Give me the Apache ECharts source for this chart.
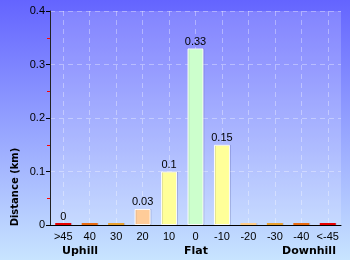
<!DOCTYPE html>
<html>
<head>
<meta charset="utf-8">
<script src="https://cdn.jsdelivr.net/npm/echarts@6/dist/echarts.min.js"></script>
<style>
html, body { margin: 0; padding: 0; }
#chart { width: 350px; height: 260px; }
</style>
</head>
<body>
<div id="chart"></div>
<script>
// gradient categories (%)
const categories = ['>45', '40', '30', '20', '10', '0', '-10', '-20', '-30', '-40', '<-45'];
// distance per gradient band (km)
const distances = [0, 0, 0, 0.03, 0.1, 0.33, 0.15, 0, 0, 0, 0];
const barColors = ['#E80000', '#E86A10', '#E8A030', '#FFCC99', '#FFFF99', '#CCFFCC',
                   '#FFFF99', '#FFCC88', '#E8A030', '#E86A10', '#E80000'];
// which bars carry a value label
const showLabel = [true, false, false, true, true, true, true, false, false, false, false];
const yTicks = [0, 0.1, 0.2, 0.3, 0.4];

let myChart = echarts.init(document.getElementById('chart'));
let font = 'Liberation Sans';
let option = {
    animation: false,
    backgroundColor: {
        type: 'linear', x: 0, y: 0, x2: 0, y2: 1,
        colorStops: [
            { offset: 0, color: '#6464FF' },
            { offset: 1, color: '#C8E4FF' }
        ]
    },
    grid: {
        left: 50,
        right: 9,
        top: 11,
        bottom: 35,
        show: true,
        backgroundColor: 'rgba(255,255,255,0.18)',
        borderWidth: 0
    },
    xAxis: {
        type: 'category',
        data: categories,
        axisLine: { lineStyle: { color: '#000', width: 1 } },
        axisTick: { alignWithLabel: true, length: 3, lineStyle: { color: '#000' } },
        axisLabel: { color: '#000', fontFamily: font, fontSize: 11, margin: 6, interval: 0 },
        splitLine: {
            show: true,
            alignWithLabel: true,
            lineStyle: { color: 'rgba(255,255,255,0.35)', type: [5, 4] }
        }
    },
    yAxis: {
        type: 'value',
        min: yTicks[0],
        max: yTicks[yTicks.length - 1],
        interval: 0.1,
        axisLine: { show: true, lineStyle: { color: '#222', width: 1 } },
        axisTick: { show: true, length: 4, lineStyle: { color: '#000' } },
        minorTick: { show: true, splitNumber: 2, length: 3, lineStyle: { color: '#FF0000', width: 1 } },
        axisLabel: { color: '#000', fontFamily: font, fontSize: 11, margin: 5 },
        splitLine: { show: true, lineStyle: { color: 'rgba(255,255,255,0.35)', type: [5, 4] } }
    },
    graphic: [
        { type: 'text', x: 15, y: 187, rotation: Math.PI / 2,
          style: { text: 'Distance (km)', fill: '#000', font: 'bold 10px DejaVu Sans', textAlign: 'center', textVerticalAlign: 'middle' } },
        { type: 'text', x: 80, y: 251,
          style: { text: 'Uphill', fill: '#000', font: 'bold 11px DejaVu Sans', textAlign: 'center', textVerticalAlign: 'middle' } },
        { type: 'text', x: 196, y: 251,
          style: { text: 'Flat', fill: '#000', font: 'bold 11px DejaVu Sans', textAlign: 'center', textVerticalAlign: 'middle' } },
        { type: 'text', x: 309, y: 251,
          style: { text: 'Downhill', fill: '#000', font: 'bold 11px DejaVu Sans', textAlign: 'center', textVerticalAlign: 'middle' } }
    ],
    series: [{
        type: 'bar',
        barWidth: 16,
        barMinHeight: 2,
        data: distances.map((v, i) => ({
            value: v,
            itemStyle: {
                color: barColors[i],
                borderColor: v > 0 ? 'rgba(255,255,255,0.9)' : barColors[i],
                borderWidth: v > 0 ? 1 : 0,
                shadowColor: 'rgba(0,0,80,0.12)',
                shadowOffsetX: 1
            },
            label: { show: showLabel[i] }
        })),
        label: {
            position: 'top',
            distance: 1,
            color: '#000',
            fontFamily: font,
            fontSize: 11
        }
    }]
};
myChart.setOption(option);
</script>
</body>
</html>
